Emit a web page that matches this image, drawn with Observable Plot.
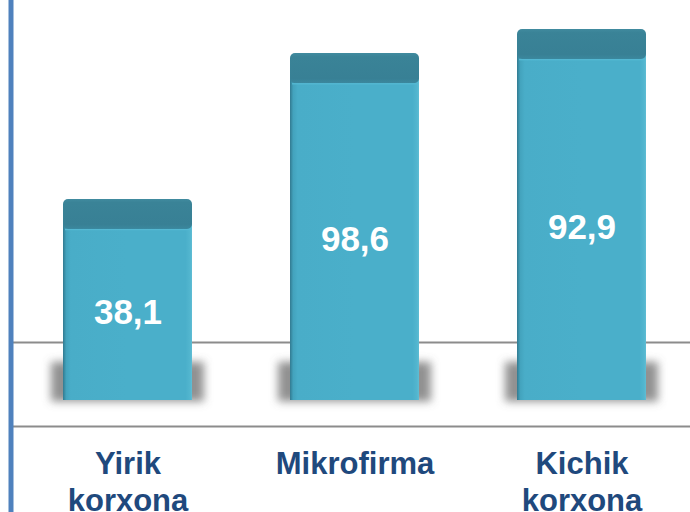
<!DOCTYPE html>
<html>
<head>
<meta charset="utf-8">
<script src="https://cdn.jsdelivr.net/npm/d3@7"></script>
<script src="https://cdn.jsdelivr.net/npm/@observablehq/plot@0.6"></script>
<style>
  html, body { margin: 0; padding: 0; background: #ffffff; }
  #chart { width: 690px; height: 512px; overflow: hidden; }
</style>
</head>
<body>
<div id="chart"></div>
<script>
// Categories (keys) and their displayed tick labels
const categories = ["Yirik korxona", "Mikrofirma", "Kichik korxona"];
const tickLabels = ["Yirik\nkorxona", "Mikrofirma", "Kichik\nkorxona"];
// Values printed on the bars
const values = [38.1, 98.6, 92.9];
// Bar heights as drawn in the picture (relative, tallest = 100)
const barHeights = [54.2, 93.5, 100];
// Floor lines of the 3D base (same relative units)
const floorLines = [15.6, -7.0];

const capDepth = 8.1;      // depth of the darker top face
const shadowDepth = 10.3;  // height of the soft floor shadow
const shadowColor = "#6e6e6e";

const data = categories.map((c, i) => ({
  category: c,
  label: tickLabels[i],
  value: values[i],
  height: barHeights[i]
}));

const fmt = v => v.toFixed(1).replace(".", ",");

const svg = Plot.plot({
  width: 690,
  height: 512,
  marginTop: 0,
  marginRight: 0,
  marginBottom: 86,
  marginLeft: 10.5,
  style: {fontFamily: "'Liberation Sans', Arial, sans-serif", background: "#ffffff", overflow: "visible"},
  x: {domain: categories, axis: null, paddingInner: 0.43, paddingOuter: 0.2084, align: 0.543},
  y: {domain: [0, 100], axis: null, insetTop: 29, insetBottom: 26},
  marks: [
    Plot.ruleY(floorLines, {stroke: "#8c8c8c", strokeWidth: 2}),
    Plot.barY(data, {
      x: "category", y1: d => -0.4, y2: d => shadowDepth,
      insetLeft: -12, insetRight: -12,
      fill: shadowColor, fillOpacity: 0.75
    }),
    Plot.barY(data, {
      x: "category", y1: d => 0, y2: d => d.height - capDepth / 2,
      fill: "url(#frontGrad)"
    }),
    Plot.barY(data, {
      x: "category", y1: d => d.height - capDepth, y2: "height",
      fill: "url(#capGrad)", rx: 5
    }),
    Plot.barY(data, {
      x: "category", y1: d => d.height - capDepth - 0.35, y2: d => d.height - capDepth,
      insetLeft: 2, insetRight: 2,
      fill: "#55b9d3"
    }),
    Plot.text(data, {
      x: "category", y: d => (d.height - capDepth) / 2,
      text: d => fmt(d.value),
      fill: "#ffffff", fontSize: 35, fontWeight: "bold", lineAnchor: "middle", dy: -2
    }),
    Plot.text(data, {
      x: "category", text: "label",
      frameAnchor: "bottom", lineAnchor: "top", dy: 22,
      fill: "#1f497d", fontSize: 31, fontWeight: "bold", lineHeight: 1.17
    }),
    Plot.frame({anchor: "left", stroke: "#4f81bd", strokeWidth: 5, insetBottom: -84})
  ]
});

const defs = d3.select(svg).insert("defs", ":first-child");
defs.html(`
  <linearGradient id="frontGrad" x1="0" y1="0" x2="1" y2="0">
    <stop offset="0" stop-color="#327a90"/>
    <stop offset="0.025" stop-color="#43a3bd"/>
    <stop offset="0.06" stop-color="#49adc8"/>
    <stop offset="0.5" stop-color="#4aafca"/>
    <stop offset="0.95" stop-color="#4aafca"/>
    <stop offset="0.985" stop-color="#53b6cf"/>
    <stop offset="1" stop-color="#60bdd4"/>
  </linearGradient>
  <linearGradient id="capGrad" x1="0" y1="0" x2="0" y2="1">
    <stop offset="0" stop-color="#418b9f"/>
    <stop offset="0.12" stop-color="#3a8397"/>
    <stop offset="0.85" stop-color="#388095"/>
    <stop offset="1" stop-color="#3b889e"/>
  </linearGradient>
  <filter id="softShadow" x="-30%" y="-80%" width="160%" height="260%">
    <feGaussianBlur stdDeviation="4.5"/>
  </filter>
`);
d3.select(svg).selectAll("g").filter(function() {
  return this.getAttribute("fill") === shadowColor;
}).attr("filter", "url(#softShadow)");

document.getElementById("chart").appendChild(svg);
</script>
</body>
</html>
